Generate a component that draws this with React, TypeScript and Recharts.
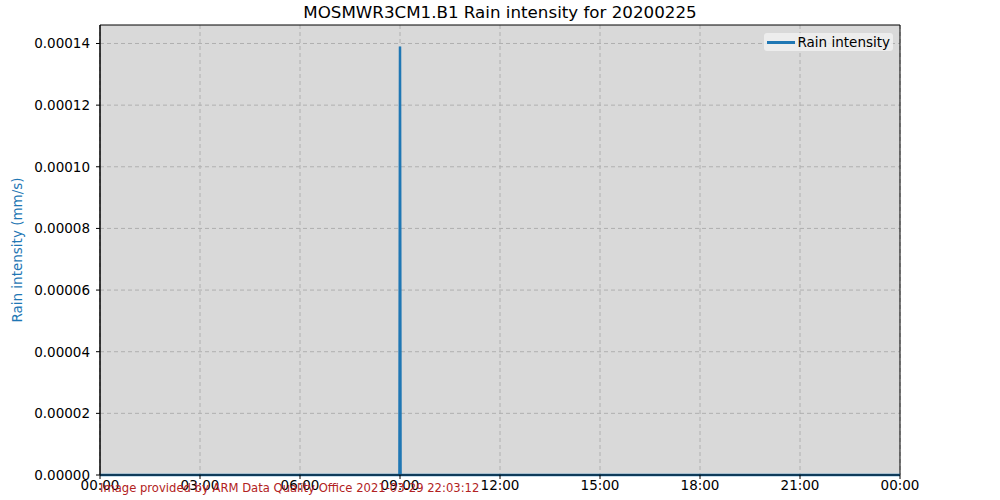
import {
  CartesianGrid,
  Line,
  LineChart,
  ReferenceArea,
  XAxis,
  YAxis,
} from 'recharts';

// minutes since midnight, rain intensity (mm/s)
const minutes = [0, 539, 540, 541, 1440];
const rain = [0, 0, 0.000139, 0, 0];
const xTicks = [0, 180, 360, 540, 720, 900, 1080, 1260, 1440];
const yTicks = [0, 0.00002, 0.00004, 0.00006, 0.00008, 0.0001, 0.00012, 0.00014];
const yMax = 0.000146;

const data = minutes.map((m, i) => ({ t: m, rain: rain[i] }));

const font = '"DejaVu Sans"';
const blue = '#1f77b4';

const fmtTime = (m: number) => {
  const h = Math.floor(m / 60) % 24;
  const mm = m % 60;
  return `${String(h).padStart(2, '0')}:${String(mm).padStart(2, '0')}`;
};

export default function App() {
  return (
    <div style={{ position: 'absolute', top: 0, left: 0, width: 1000, height: 500, background: '#fff', fontFamily: font }}>
      <div style={{ position: 'absolute', top: 2, width: 1000, textAlign: 'center', fontSize: 16.7, lineHeight: '20px' }}>
        MOSMWR3CM1.B1 Rain intensity for 20200225
      </div>
      <LineChart width={1000} height={500} data={data} margin={{ top: 25, right: 100, bottom: 0, left: 0 }}>
        <CartesianGrid fill="#d9d9d9" stroke="#b0b0b0" strokeDasharray="4 3" verticalValues={xTicks} horizontalValues={yTicks} />
        <XAxis
          dataKey="t"
          type="number"
          domain={[0, 1440]}
          ticks={xTicks}
          tickFormatter={fmtTime}
          interval={0}
          height={25}
          tickSize={4}
          tickMargin={1}
          stroke="#000"
          tick={{ fill: '#000', fontSize: 13.5, fontFamily: font }}
        />
        <YAxis
          type="number"
          domain={[0, yMax]}
          ticks={yTicks}
          tickFormatter={(v: number) => v.toFixed(5)}
          interval={0}
          width={100}
          tickSize={4}
          tickMargin={6}
          stroke="#000"
          tick={{ fill: '#000', fontSize: 13.5, fontFamily: font }}
          label={{ value: 'Rain intensity (mm/s)', angle: -90, position: 'insideLeft', offset: 17, style: { fill: blue, fontSize: 13.5, fontFamily: font, textAnchor: 'middle' } }}
        />
        <ReferenceArea x1={0} x2={1440} y1={0} y2={yMax} fill="none" stroke="#000" strokeWidth={1} ifOverflow="visible" />
        <Line
          type="linear"
          dataKey="rain"
          stroke={blue}
          strokeWidth={2.5}
          dot={false}
          activeDot={false}
          isAnimationActive={false}
        />
      </LineChart>
      <div
        style={{
          position: 'absolute',
          top: 33,
          right: 107,
          display: 'flex',
          alignItems: 'center',
          background: 'rgba(240,240,240,0.85)',
          borderRadius: 3,
          padding: '0 3px',
          fontSize: 13.5,
          height: 18,
        }}
      >
        <span style={{ display: 'inline-block', width: 28, height: 3, background: blue, marginRight: 3 }} />
        Rain intensity
      </div>
      <div style={{ position: 'absolute', left: 100, top: 480, fontSize: 11.6, lineHeight: '16px', color: '#b22222', whiteSpace: 'nowrap' }}>
        Image provided by ARM Data Quality Office 2021-03-29 22:03:12
      </div>
    </div>
  );
}
